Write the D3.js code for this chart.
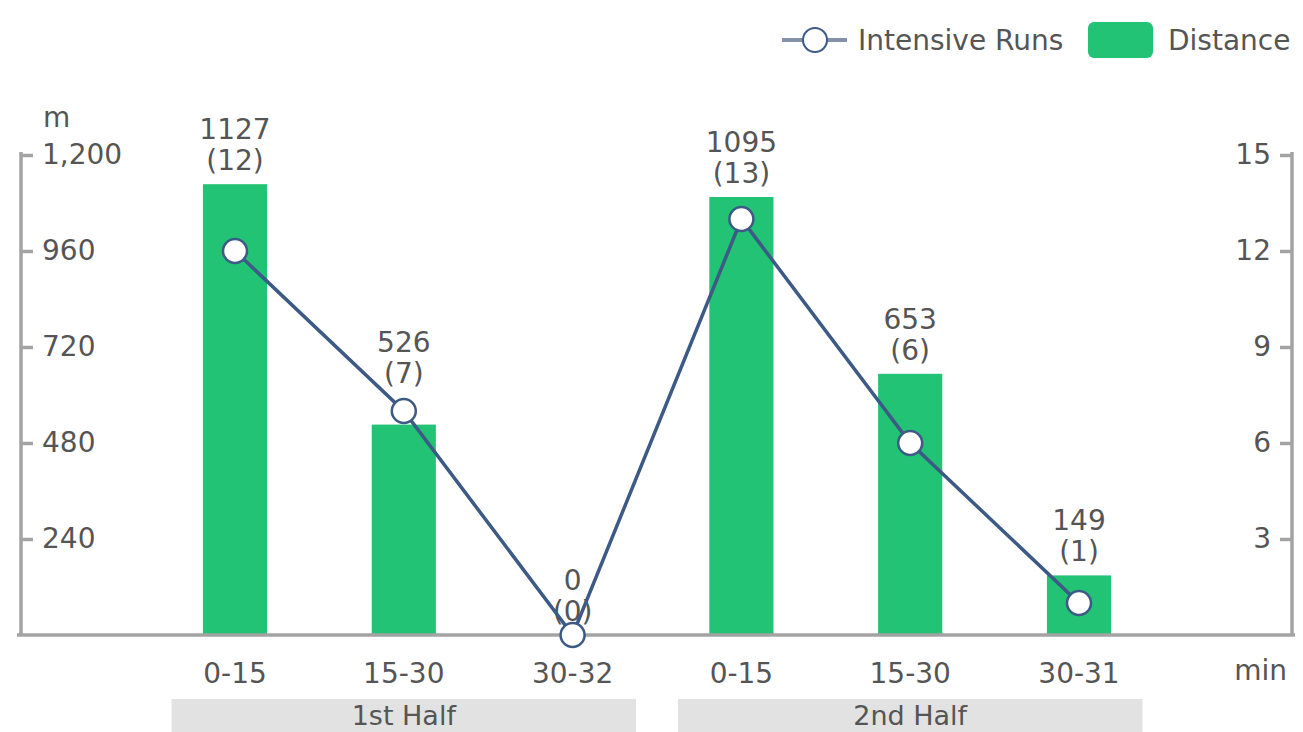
<!DOCTYPE html>
<html>
<head>
<meta charset="utf-8">
<script src="https://cdn.jsdelivr.net/npm/d3@7"></script>
<style>
  html, body { margin: 0; padding: 0; background: #fff; }
  svg { display: block; font-family: 'DejaVu Sans', sans-serif; }
  text { fill: #555; }
</style>
</head>
<body>
<svg id="chart" width="1303" height="732"></svg>
<script>
// data
const periods = ['0-15', '15-30', '30-32', '0-15', '15-30', '30-31'];
const halves = ['1st Half', '1st Half', '1st Half', '2nd Half', '2nd Half', '2nd Half'];
const distance = [1127, 526, 0, 1095, 653, 149];
const intensiveRuns = [12, 7, 0, 13, 6, 1];
const distanceTicks = [240, 480, 720, 960, 1200];
const runTicks = [3, 6, 9, 12, 15];
const groupNames = ['1st Half', '2nd Half'];

const green = '#22c374';
const lineBlue = '#3d5a86';
const axisGrey = '#a3a3a3';
const fontSize = 28;

const svg = d3.select('#chart');

const idx = d3.range(periods.length);
const x = d3.scaleBand()
  .domain(idx)
  .range([150.6, 1163.4])
  .paddingInner(0.62)
  .paddingOuter(0.31);
const step = x.step();
const cx = i => x(i) + x.bandwidth() / 2;

const yLeft = d3.scaleLinear().domain([0, 1200]).range([635, 155]);
const yRight = d3.scaleLinear().domain([0, 15]).range([635, 155]);

// group bands under the axis
groupNames.forEach(g => {
  const members = idx.filter(i => halves[i] === g);
  const x0 = cx(members[0]) - step / 2 + 21;
  const x1 = cx(members[members.length - 1]) + step / 2 - 21;
  svg.append('rect')
    .attr('x', x0)
    .attr('y', 699)
    .attr('width', x1 - x0)
    .attr('height', 40)
    .attr('fill', '#e2e2e2');
  svg.append('text')
    .attr('x', (x0 + x1) / 2)
    .attr('y', 725)
    .attr('text-anchor', 'middle')
    .style('font-size', '27px')
    .text(g);
});

// bars
svg.append('g')
  .selectAll('rect')
  .data(idx)
  .join('rect')
  .attr('x', i => x(i))
  .attr('y', i => yLeft(distance[i]))
  .attr('width', x.bandwidth())
  .attr('height', i => yLeft(0) - yLeft(distance[i]))
  .attr('fill', green);

// left axis
const leftAxis = svg.append('g')
  .attr('transform', 'translate(21,0)')
  .call(d3.axisRight(yLeft)
    .tickValues(distanceTicks)
    .tickFormat(d3.format(','))
    .tickSize(12)
    .tickSizeOuter(0)
    .tickPadding(9));
leftAxis.select('.domain').attr('d', 'M0,152V635');

// right axis
const rightAxis = svg.append('g')
  .attr('transform', 'translate(1292,0)')
  .call(d3.axisLeft(yRight)
    .tickValues(runTicks)
    .tickSize(12)
    .tickSizeOuter(0)
    .tickPadding(9));
rightAxis.select('.domain').attr('d', 'M0,152V635');

// bottom axis
const bottomAxis = svg.append('g')
  .attr('transform', 'translate(0,635)')
  .call(d3.axisBottom(x)
    .tickFormat(i => periods[i])
    .tickSize(0)
    .tickPadding(28));
bottomAxis.select('.domain').attr('d', 'M17,0H1295');

svg.selectAll('.domain')
  .attr('stroke', axisGrey)
  .attr('stroke-width', 3.5);
svg.selectAll('.tick line')
  .attr('stroke', axisGrey)
  .attr('stroke-width', 3.5);
svg.selectAll('.tick text')
  .attr('fill', '#555')
  .style('font-size', fontSize + 'px')
  .style('font-family', "'DejaVu Sans', sans-serif");

// unit labels
svg.append('text')
  .attr('x', 43)
  .attr('y', 127)
  .style('font-size', fontSize + 'px')
  .text('m');
svg.append('text')
  .attr('x', 1287)
  .attr('y', 680)
  .attr('text-anchor', 'end')
  .style('font-size', fontSize + 'px')
  .text('min');

// value labels: above the bar, or above the point when it sits higher
const labelAnchor = i => {
  const barTop = yLeft(distance[i]);
  const py = yRight(intensiveRuns[i]);
  return py < barTop ? py - 14 : barTop;
};
const labels = svg.append('g')
  .selectAll('text')
  .data(idx)
  .join('text')
  .attr('text-anchor', 'middle')
  .style('font-size', fontSize + 'px');
labels.append('tspan')
  .attr('x', i => cx(i))
  .attr('y', i => labelAnchor(i) - 14 - 31)
  .text(i => distance[i]);
labels.append('tspan')
  .attr('x', i => cx(i))
  .attr('y', i => labelAnchor(i) - 14)
  .text(i => '(' + intensiveRuns[i] + ')');

// line + points
const line = d3.line()
  .x(i => cx(i))
  .y(i => yRight(intensiveRuns[i]));
svg.append('path')
  .datum(idx)
  .attr('d', line)
  .attr('fill', 'none')
  .attr('stroke', lineBlue)
  .attr('stroke-width', 3.5);
svg.append('g')
  .selectAll('circle')
  .data(idx)
  .join('circle')
  .attr('cx', i => cx(i))
  .attr('cy', i => yRight(intensiveRuns[i]))
  .attr('r', 12)
  .attr('fill', '#fff')
  .attr('stroke', lineBlue)
  .attr('stroke-width', 2.5);

// legend
const legend = svg.append('g').attr('transform', 'translate(0,40)');
legend.append('line')
  .attr('x1', 782).attr('x2', 847)
  .attr('y1', 0).attr('y2', 0)
  .attr('stroke', '#8292a9')
  .attr('stroke-width', 4);
legend.append('circle')
  .attr('cx', 815).attr('cy', 0).attr('r', 12)
  .attr('fill', '#fff')
  .attr('stroke', lineBlue)
  .attr('stroke-width', 2);
legend.append('text')
  .attr('x', 858).attr('y', 0).attr('dy', '0.35em')
  .style('font-size', fontSize + 'px')
  .text('Intensive Runs');
legend.append('rect')
  .attr('x', 1088).attr('y', -18)
  .attr('width', 65).attr('height', 36)
  .attr('rx', 6)
  .attr('fill', green);
legend.append('text')
  .attr('x', 1168).attr('y', 0).attr('dy', '0.35em')
  .style('font-size', fontSize + 'px')
  .text('Distance');
</script>
</body>
</html>
